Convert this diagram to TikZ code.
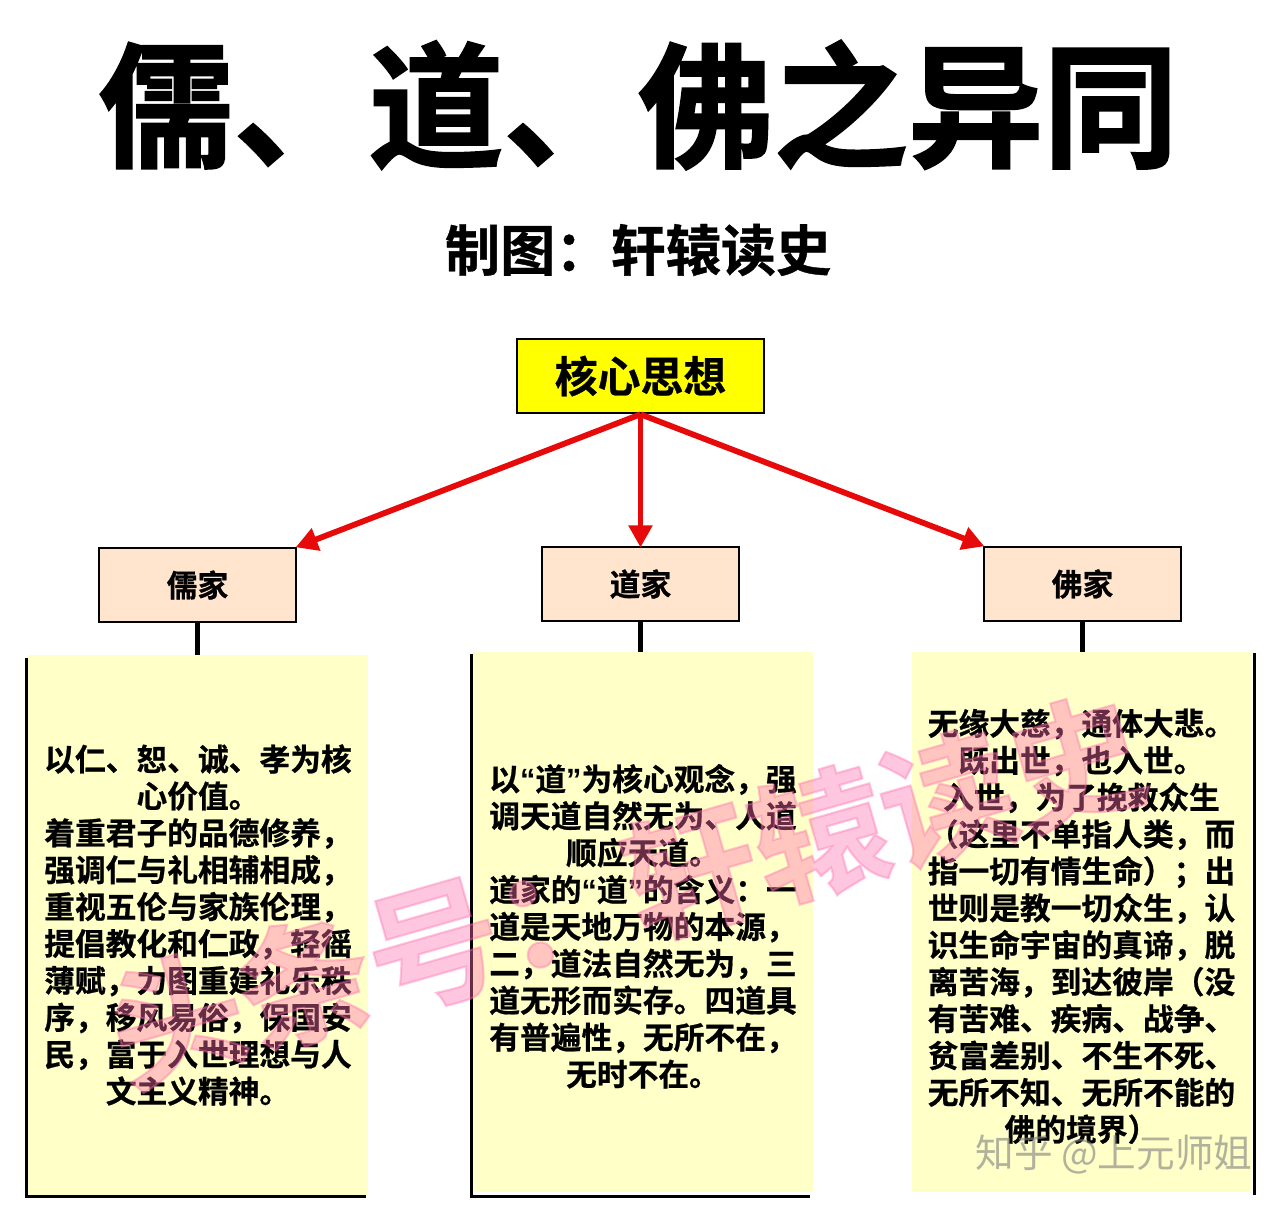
\documentclass[tikz,border=0pt]{standalone}
\usepackage{fontspec}
\newfontfamily\cjk{Noto Sans CJK SC Bold}
\newfontfamily\cjkbody[FakeBold=0.7]{Noto Sans CJK SC Bold}
\newfontfamily\cjktitle[FakeBold=1.6]{Noto Sans CJK SC Bold}
\newfontfamily\cjkmark{Noto Sans CJK SC}
\newfontfamily\latinq{Liberation Sans Bold}
\usetikzlibrary{arrows.meta}
\definecolor{headyellow}{HTML}{FFFF00}
\definecolor{schoolpeach}{HTML}{FFE4CE}
\definecolor{bodycream}{HTML}{FFFFC8}
\definecolor{arrowred}{HTML}{E60A0A}
\definecolor{markpink}{HTML}{FF70B0}
\newcommand{\opq}{{\latinq “}}
\newcommand{\clq}{{\latinq ”}}
\newcommand{\topgap}{\rule{0pt}{20pt}}
\tikzset{
    headbox/.style={draw=black,line width=1.5pt,fill=headyellow,minimum width=4.94cm,minimum height=1.48cm,
        font=\cjkbody\fontsize{24.4}{29}\selectfont},
    schoolbox/.style={draw=black,line width=1.5pt,fill=schoolpeach,minimum width=3.94cm,minimum height=1.48cm,
        font=\cjkbody\fontsize{17.5}{21}\selectfont},
    bodybox/.style={fill=bodycream,inner sep=0pt,minimum width=6.8cm,minimum height=10.8cm,align=center,
        font=\cjkbody\fontsize{17.5}{21}\selectfont},
    redarrow/.style={-{Triangle[length=12.5pt,width=13pt]},arrowred,line width=3.3pt,shorten >=-1pt},
    stemline/.style={black,line width=3pt},
    edgeline/.style={black,line width=1.6pt}
}
\begin{document}
\begin{tikzpicture}[x=0.02cm,y=-0.02cm]
                    \useasboundingbox (0,0) rectangle (1286,1207);
                    \node (title) at (638.5,105) {\cjktitle\fontsize{76.8}{90}\selectfont 儒、道、佛之异同};
                    \node (subtitle) at (638,250) {\cjkbody\fontsize{31.4}{37}\selectfont 制图：轩辕读史};
                    \node[headbox] (core) at (640.5,376) {核心思想};
                    \node[schoolbox] (ru) at (197.5,585) {儒家};
                    \node[schoolbox] (dao) at (640.5,584) {道家};
                    \node[schoolbox] (fo) at (1082.5,584) {佛家};
                    \node[bodybox] (rubody) at (198,925) {以仁、恕、诚、孝为核\\心价值。\\着重君子的品德修养，\\强调仁与礼相辅相成，\\重视五伦与家族伦理，\\提倡教化和仁政，轻徭\\薄赋，力图重建礼乐秩\\序，移风易俗，保国安\\民，富于入世理想与人\\文主义精神。};
                    \node[bodybox] (daobody) at (643,922) {\topgap 以\opq 道\clq 为核心观念，强\\调天道自然无为、人道\\顺应天道。\\道家的\opq 道\clq 的含义：一\\道是天地万物的本源，\\二，道法自然无为，三\\道无形而实存。四道具\\有普遍性，无所不在，\\无时不在。};
                    \node[bodybox] (fobody) at (1081.5,922) {\topgap 无缘大慈，通体大悲。\\既出世，也入世。\\入世，为了挽救众生\\（这里不单指人类，而\\指一切有情生命）；出\\世则是教一切众生，认\\识生命宇宙的真谛，脱\\离苦海，到达彼岸（没\\有苦难、疾病、战争、\\贫富差别、不生不死、\\无所不知、无所不能的\\佛的境界）};
                    \draw[redarrow] (core.south) -- (ru.north east);
                    \draw[redarrow] (core.south) -- (dao.north);
                    \draw[redarrow] (core.south) -- (fo.north west);
                    \draw[stemline] (ru.south) -- (ru.south |- rubody.north);
                    \draw[stemline] (dao.south) -- (dao.south |- daobody.north);
                    \draw[stemline] (fo.south) -- (fo.south |- fobody.north);
                    \draw[edgeline] ([shift={(-1,3)}]rubody.north west) -- ([shift={(-1,1)}]rubody.south west) -- ([shift={(-2,1)}]rubody.south east);
                    \draw[edgeline] ([shift={(-1,2)}]daobody.north west) -- ([shift={(-1,4)}]daobody.south west) -- ([shift={(-3,4)}]daobody.south east);
                    \draw[edgeline] ([shift={(3,1)}]fobody.north east) -- ([shift={(3,3)}]fobody.south east);
                    \node[rotate=16,markpink,opacity=0.4] (mark) at (626,890) {\cjktitle\fontsize{76}{90}\selectfont 头条号：轩辕读史};
                    \node[gray,opacity=0.6] (zhihu) at (1114,1155) {\cjkmark\fontsize{22}{26}\selectfont 知乎 @上元师姐};
                \end{tikzpicture}
\end{document}
